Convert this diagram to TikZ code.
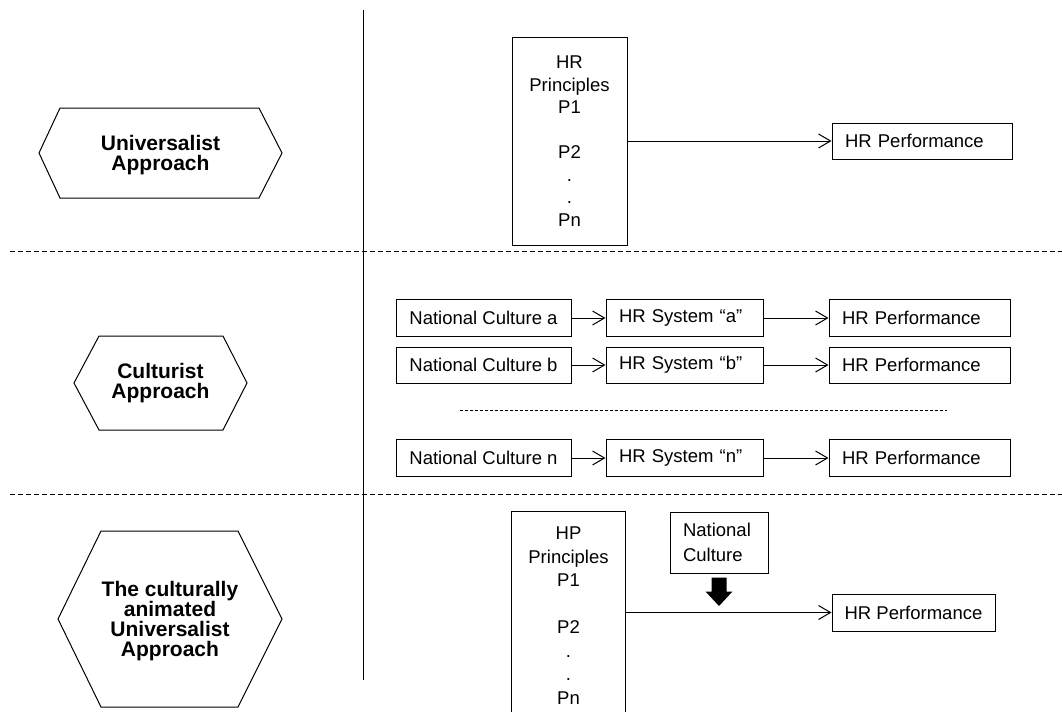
\documentclass[tikz,border=0pt]{standalone}
\usepackage{fontspec}
\setmainfont{Liberation Sans}
\usetikzlibrary{arrows.meta,calc}
\begin{document}
\begin{tikzpicture}[x=0.5pt,y=-0.5pt,
  box/.style={draw,line width=0.5pt,inner sep=0pt,font=\fontsize{9.25}{11.25}\selectfont},
  lbox/.style={box,align=left,inner xsep=6.5pt,text width=#1},
  hexlabel/.style={font=\fontsize{10.5}{10}\selectfont\bfseries,align=center},
  hexline/.style={line width=0.5pt,line join=miter},
  conn/.style={line width=0.5pt,-{Straight Barb[length=6pt,width=7pt]}},
  sep/.style={line width=0.5pt,dash pattern=on 2.5pt off 1.5pt},
  minisep/.style={line width=0.5pt,dash pattern=on 1.5pt off 1pt},
]
\useasboundingbox (0,0) rectangle (1062,712);

% frame lines
\draw[line width=0.5pt] (363,10) -- (363,680);
\draw[sep] (10,251) -- (1062,251);
\draw[sep] (10,494) -- (1062,494);

% hexagons
\node[hexlabel] (ua) at (160.5,155) {Universalist\\Approach};
\draw[hexline] (39,153) -- (60,108) -- (259,108) -- (282,153) -- (259,198) -- (60,198) -- cycle;
\node[hexlabel] (ca) at (160.5,383) {Culturist\\Approach};
\draw[hexline] (74,383) -- (99,336) -- (223,336) -- (247,383) -- (223,430) -- (99,430) -- cycle;
\node[hexlabel] (cua) at (170,621) {The culturally\\animated\\Universalist\\Approach};
\draw[hexline] (58,619) -- (101,531) -- (238,531) -- (282,619) -- (238,707) -- (101,707) -- cycle;

% universalist
\node[box,minimum width=57.5pt,minimum height=104pt,align=center] (hrp) at (569.5,141)
  {HR\\Principles\\P1\\\mbox{}\\P2\\.\\.\\Pn};
\node[lbox=77pt,minimum height=18pt] (perf1) at (922,141) {HR Performance};
\draw[conn] (hrp.east) -- (perf1.west);

% culturist
\node[box,minimum width=87.5pt,minimum height=18.5pt] (nca) at (483.5,318) {National Culture a};
\node[lbox=65.5pt,minimum height=18.5pt] (hsa) at (684.5,318) {HR System “a”};
\node[lbox=77.5pt,minimum height=18.5pt] (pfa) at (919.5,318) {HR Performance};
\node[box,minimum width=87.5pt,minimum height=18pt] (ncb) at (483.5,365) {National Culture b};
\node[lbox=65.5pt,minimum height=18pt] (hsb) at (684.5,365) {HR System “b”};
\node[lbox=77.5pt,minimum height=18pt] (pfb) at (919.5,365) {HR Performance};
\node[box,minimum width=87.5pt,minimum height=18.5pt] (ncn) at (483.5,458) {National Culture n};
\node[lbox=65.5pt,minimum height=18.5pt] (hsn) at (684.5,458) {HR System “n”};
\node[lbox=77.5pt,minimum height=18.5pt] (pfn) at (919.5,458) {HR Performance};
\foreach \r in {a,b,n}{
  \draw[conn] (nc\r.east) -- (hs\r.west);
  \draw[conn] (hs\r.east) -- (pf\r.west);
}
\draw[minisep] (460,410) -- (947,410);

% culturally animated universalist
\node[box,draw=none,minimum width=56.5pt,minimum height=103.5pt,align=center,
  font=\fontsize{9.25}{11.75}\selectfont] (hp) at (568.5,615.5)
  {HP\\Principles\\P1\\\mbox{}\\P2\\.\\.\\Pn};
\draw[line width=0.5pt] (hp.west |- 0,712) -- (hp.north west) -- (hp.north east) -- (hp.east |- 0,712);
\node[lbox=36pt,minimum height=30.5pt,font=\fontsize{9.25}{12.5}\selectfont] (nc3) at (719,542.5) {National\\Culture};
\node[box,minimum width=81.5pt,minimum height=18.5pt] (pf3) at (913.5,612.5) {HR Performance};
\draw[conn] (hp.east |- pf3.west) -- (pf3.west);
\coordinate (hit) at (nc3.south |- pf3.west);
\fill ($(nc3.south)+(-7.5,4)$) -- ($(nc3.south)+(7.5,4)$) -- ($(nc3.south)+(7.5,18)$)
  -- ($(nc3.south)+(13.5,18)$) -- ($(hit)+(0,-6.5)$) -- ($(nc3.south)+(-13.5,18)$)
  -- ($(nc3.south)+(-7.5,18)$) -- cycle;
\end{tikzpicture}
\end{document}
